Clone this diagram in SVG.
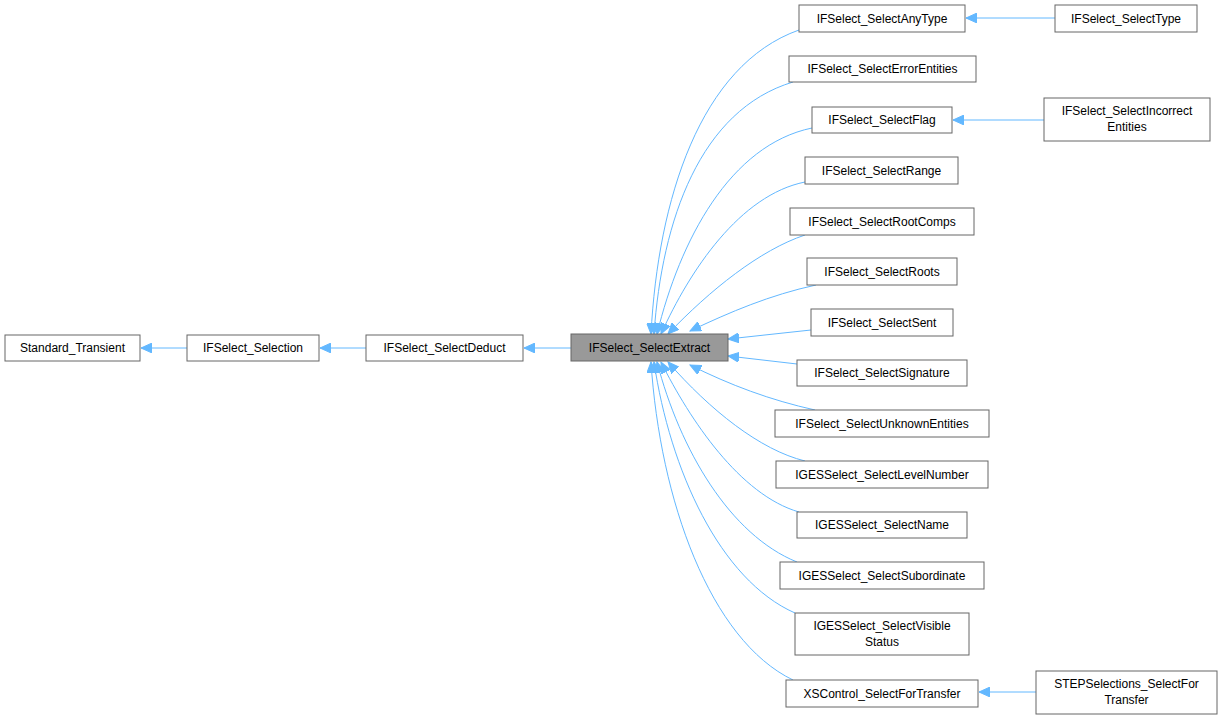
<svg xmlns="http://www.w3.org/2000/svg" width="1223" height="720" viewBox="0 0 1223 720">
<style>
.n rect{fill:#fff;stroke:#666;stroke-width:1}
.n text{font-family:"Liberation Sans",Arial,sans-serif;font-size:12px;fill:#000;text-anchor:middle}
#e path{fill:none;stroke:#63b8ff;stroke-width:1;marker-end:url(#a)}
</style>
<defs><marker id="a" markerWidth="12" markerHeight="10" refX="11" refY="5" orient="auto" markerUnits="userSpaceOnUse"><path d="M0,0 L11,5 L0,10 z" fill="#63b8ff" stroke="#63b8ff"/></marker></defs>
<rect width="1223" height="720" fill="#fff"/>
<g id="e">
<path d="M187,348 H141"/>
<path d="M366,348 H320"/>
<path d="M571,348 H524"/>
<path d="M1055,18 H966"/>
<path d="M1044,120 H953"/>
<path d="M1036,692 H979"/>
<path d="M799,30 C700,65 658,200 651,334"/>
<path d="M793,82 C700,110 662,220 654,334"/>
<path d="M812,128 C730,145 680,240 657,334"/>
<path d="M805,182 C740,195 690,270 661,334"/>
<path d="M805,235 C760,250 710,290 668,334"/>
<path d="M816,285 C770,295 730,312 690,331"/>
<path d="M811,330 L728,339"/>
<path d="M797,364 L728,356"/>
<path d="M815,410 C770,400 730,385 690,365"/>
<path d="M805,461 C760,450 710,410 668,362"/>
<path d="M799,512 C740,495 690,420 661,362"/>
<path d="M797,562 C730,535 680,450 657,362"/>
<path d="M795,613 C720,580 670,470 654,362"/>
<path d="M793,680 C710,640 660,500 651,362"/>
</g>
<g id="n0" class="n"><rect x="5" y="335" width="135" height="26"/><text x="72.5" y="352">Standard_Transient</text></g>
<g id="n1" class="n"><rect x="187" y="335" width="132" height="26"/><text x="253" y="352">IFSelect_Selection</text></g>
<g id="n2" class="n"><rect x="366" y="335" width="157" height="26"/><text x="444.5" y="352">IFSelect_SelectDeduct</text></g>
<g id="n3" class="n"><rect x="571" y="334" width="157" height="27" style="fill:#999"/><text x="649.5" y="352">IFSelect_SelectExtract</text></g>
<g id="n4" class="n"><rect x="799" y="5" width="166" height="27"/><text x="882" y="23">IFSelect_SelectAnyType</text></g>
<g id="n5" class="n"><rect x="789" y="56" width="187" height="26"/><text x="882.5" y="73">IFSelect_SelectErrorEntities</text></g>
<g id="n6" class="n"><rect x="812" y="107" width="140" height="26"/><text x="882" y="124">IFSelect_SelectFlag</text></g>
<g id="n7" class="n"><rect x="805" y="157" width="153" height="27"/><text x="881.5" y="175">IFSelect_SelectRange</text></g>
<g id="n8" class="n"><rect x="790" y="208" width="184" height="27"/><text x="882" y="226">IFSelect_SelectRootComps</text></g>
<g id="n9" class="n"><rect x="807" y="258" width="150" height="27"/><text x="882" y="276">IFSelect_SelectRoots</text></g>
<g id="n10" class="n"><rect x="811" y="309" width="142" height="27"/><text x="882" y="327">IFSelect_SelectSent</text></g>
<g id="n11" class="n"><rect x="797" y="360" width="170" height="26"/><text x="882" y="377">IFSelect_SelectSignature</text></g>
<g id="n12" class="n"><rect x="775" y="410" width="214" height="27"/><text x="882" y="428">IFSelect_SelectUnknownEntities</text></g>
<g id="n13" class="n"><rect x="776" y="461" width="212" height="27"/><text x="882" y="479">IGESSelect_SelectLevelNumber</text></g>
<g id="n14" class="n"><rect x="797" y="512" width="170" height="26"/><text x="882" y="529">IGESSelect_SelectName</text></g>
<g id="n15" class="n"><rect x="780" y="562" width="204" height="27"/><text x="882" y="580">IGESSelect_SelectSubordinate</text></g>
<g id="n16" class="n"><rect x="795" y="613" width="174" height="42"/><text x="882" y="630">IGESSelect_SelectVisible</text><text x="882" y="646">Status</text></g>
<g id="n17" class="n"><rect x="786" y="680" width="192" height="27"/><text x="882" y="698">XSControl_SelectForTransfer</text></g>
<g id="n18" class="n"><rect x="1055" y="5" width="142" height="27"/><text x="1126" y="23">IFSelect_SelectType</text></g>
<g id="n19" class="n"><rect x="1044" y="98" width="166" height="43"/><text x="1127" y="115">IFSelect_SelectIncorrect</text><text x="1127" y="131">Entities</text></g>
<g id="n20" class="n"><rect x="1036" y="671" width="181" height="43"/><text x="1126.5" y="688">STEPSelections_SelectFor</text><text x="1126.5" y="704">Transfer</text></g>
</svg>
